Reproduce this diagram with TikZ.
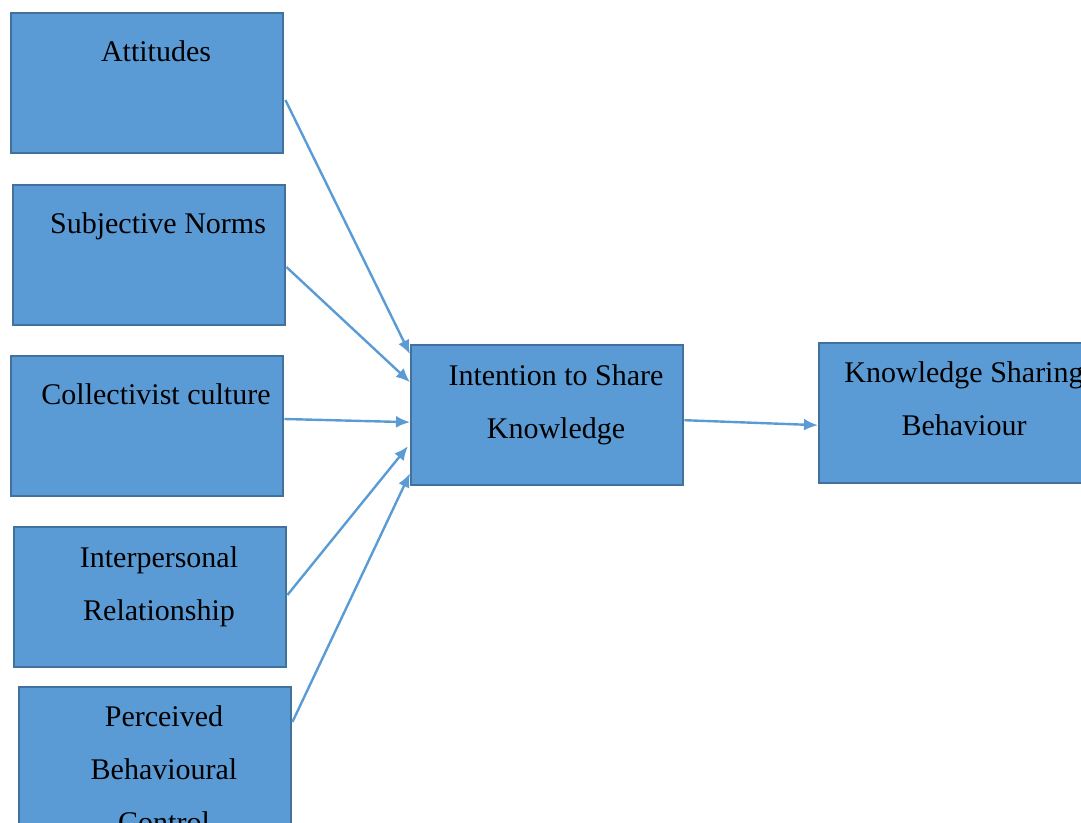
\documentclass[tikz,border=0pt]{standalone}
\usepackage{fontspec}
\setmainfont{Liberation Serif}
\usetikzlibrary{calc,arrows.meta}
\definecolor{boxfill}{HTML}{5B9BD5}
\definecolor{boxline}{HTML}{41719C}

\begin{document}
\begin{tikzpicture}[x=0.5pt, y=-0.5pt,
      box/.style={rectangle, draw=boxline, fill=boxfill, line width=1.2pt,
                  minimum width=136pt, minimum height=70pt, anchor=north west, inner sep=0pt},
      lbl/.style={anchor=base, align=center, inner sep=0pt,
                  font=\fontsize{15}{26.5}\selectfont},
      link/.style={draw=boxfill, line width=1.2pt, -{Latex[length=7pt,width=6pt]}}]
      \useasboundingbox (0,0) rectangle (1081,823);

      \node[box] (att)   at (10,12)   {};
      \node[box] (subj)  at (12,184)  {};
      \node[box] (coll)  at (10,355)  {};
      \node[box] (inter) at (13,526)  {};
      \node[box] (perc)  at (18,686)  {};
      \node[box] (int)   at (410,344) {};
      \node[box] (ksb)   at (818,342) {};

      \node[lbl] (attT)   at ($(att.north west)+(146,50)$)    {Attitudes};
      \node[lbl] (subjT)  at ($(subj.north west)+(146,50)$)   {Subjective Norms};
      \node[lbl] (collT)  at ($(coll.north west)+(146,50)$)   {Collectivist culture};
      \node[lbl] (interT) at ($(inter.north west)+(146,94)$)  {Interpersonal\\Relationship};
      \node[lbl] (percT)  at ($(perc.north west)+(146,146)$)  {Perceived\\Behavioural\\Control};
      \node[lbl] (intT)   at ($(int.north west)+(146,94)$)    {Intention to Share\\Knowledge};
      \node[lbl] (ksbT)   at ($(ksb.north west)+(146,94)$)    {Knowledge Sharing\\Behaviour};

      \draw[link] ($(att.north east)+(1,88)$)   -- ($(int.west)+(0,-61)$);
      \draw[link] ($(subj.north east)+(0,83)$)  -- ($(int.west)+(0,-33)$);
      \draw[link] ($(coll.north east)+(0,64)$)  -- ($(int.west)+(0,7)$);
      \draw[link] ($(inter.north east)+(0,69)$) -- ($(int.west)+(-2,31)$);
      \draw[link] ($(perc.north east)+(0,36)$)  -- ($(int.west)+(0,58)$);
      \draw[link] ($(int.east)+(0,5)$) -- ($(ksb.west)+(0,12)$);
    \end{tikzpicture}
\end{document}
